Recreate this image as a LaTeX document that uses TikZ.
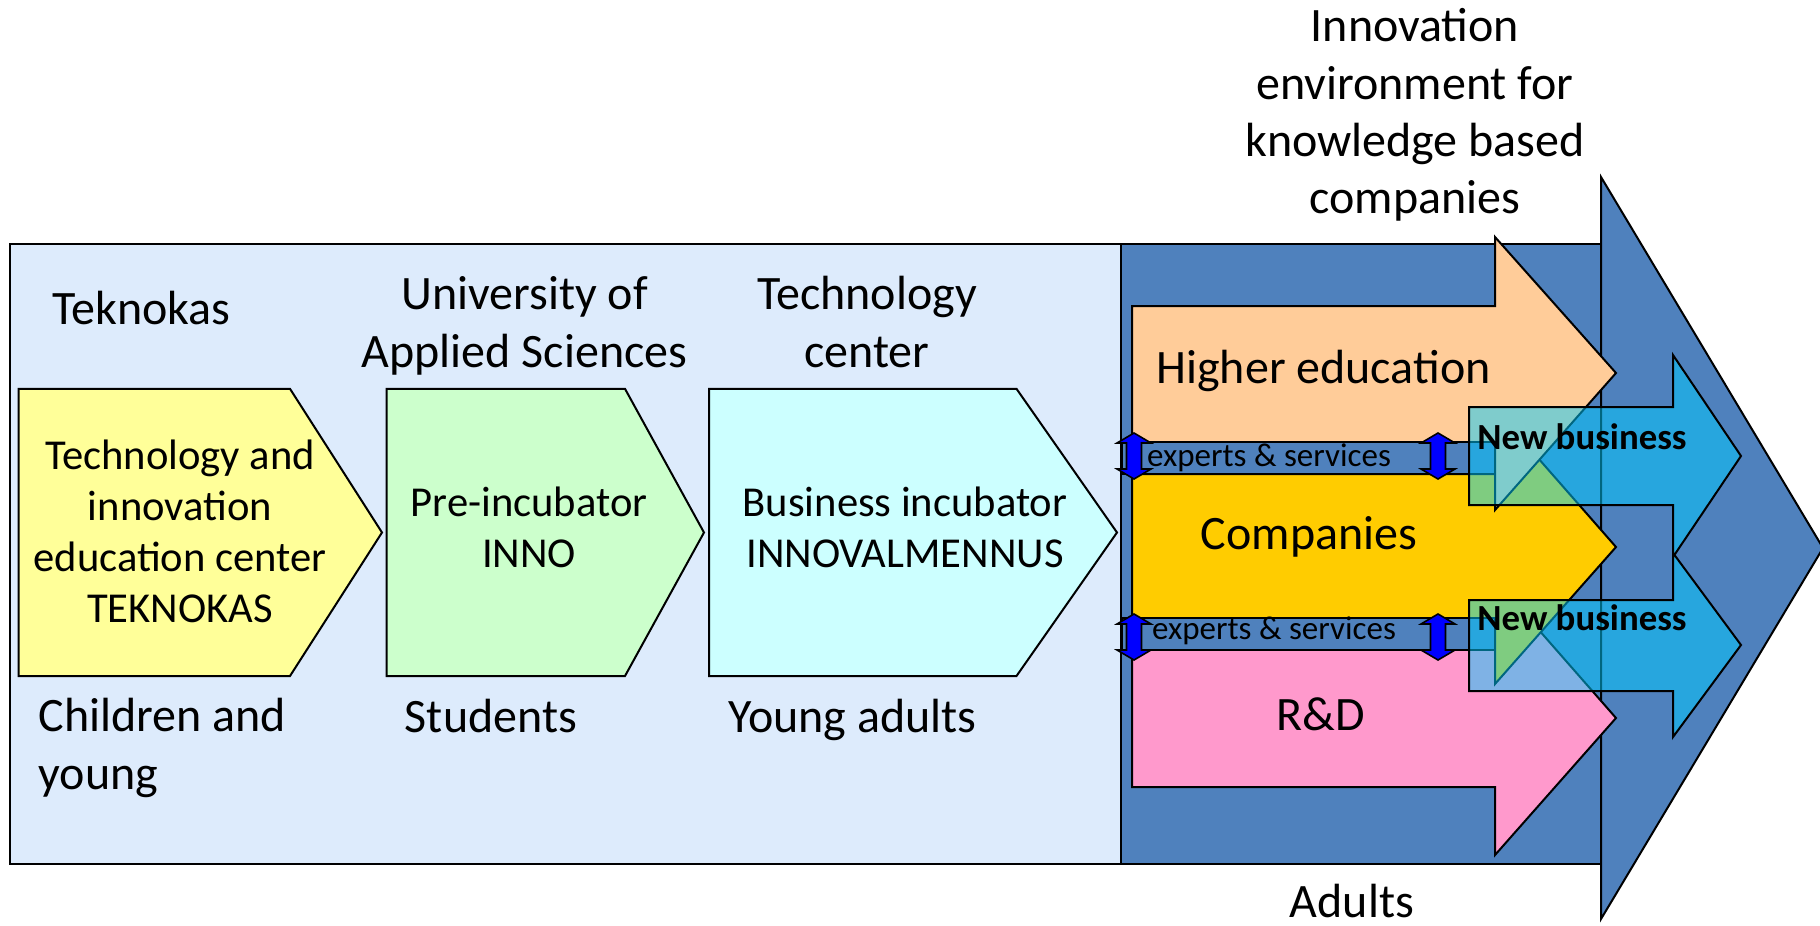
\documentclass[tikz,border=0pt]{standalone}
\usepackage{fontspec}
\setmainfont{Carlito}
\definecolor{bglight}{RGB}{221,235,252}
\definecolor{darkblue}{RGB}{79,129,189}
\definecolor{boxyellow}{RGB}{255,255,153}
\definecolor{boxgreen}{RGB}{204,255,204}
\definecolor{boxcyan}{RGB}{204,255,255}
\definecolor{peach}{RGB}{255,204,153}
\definecolor{gold}{RGB}{255,204,0}
\definecolor{pinkish}{RGB}{255,153,204}
\definecolor{nbcyan}{RGB}{0,204,255}
\definecolor{purebl}{RGB}{0,0,255}
\tikzset{
  outl/.style={draw=black,line width=1pt,line join=miter},
  lbl/.style={font=\fontsize{24}{29}\selectfont,align=center,inner sep=0pt},
  boxtxt/.style={font=\fontsize{21.3}{25.5}\selectfont,align=center,inner sep=0pt},
  exptxt/.style={font=\fontsize{16.5}{19}\selectfont,inner sep=0pt},
  nbtxt/.style={font=\bfseries\fontsize{18.4}{21}\selectfont,inner sep=0pt},
  nbarrow/.style={outl,fill=nbcyan,fill opacity=0.5},
  dblarr/.style={outl,fill=purebl,line width=0.8pt},
}
\newcommand\dblarrow[3]{%
  \draw[dblarr] (#1,#2) -- (#1+17,#2+10) -- (#1+7.5,#2+10) -- (#1+7.5,#3-10) -- (#1+17,#3-10) -- (#1,#3) -- (#1-17,#3-10) -- (#1-7.5,#3-10) -- (#1-7.5,#2+10) -- (#1-17,#2+10) -- cycle;}
\begin{document}
\begin{tikzpicture}[x=0.5pt,y=-0.5pt]
\useasboundingbox (0,0) rectangle (1820,926);
% backgrounds
\draw[outl,fill=bglight] (10.4,243.5) rectangle (1121,863.5);
\draw[outl,fill=darkblue] (1121,243.5) rectangle (1601,863.5);
\draw[outl,fill=darkblue] (1601,177) -- (1823,548) -- (1601,919) -- cycle;
% left chevrons
\draw[outl,fill=boxyellow] (18.6,388.8) -- (290,388.8) -- (382,532.5) -- (290,676) -- (18.6,676) -- cycle;
\draw[outl,fill=boxgreen] (386.5,388.8) -- (625,388.8) -- (704,532.5) -- (625,676) -- (386.5,676) -- cycle;
\draw[outl,fill=boxcyan] (709,388.8) -- (1016.5,388.8) -- (1117,532.5) -- (1016.5,676) -- (709,676) -- cycle;
% right block arrows
\draw[outl,fill=pinkish] (1132,649) -- (1495,649) -- (1495,580) -- (1616,718) -- (1495,855) -- (1495,787) -- (1132,787) -- cycle;
\draw[outl,fill=gold] (1132,474) -- (1495,474) -- (1495,409) -- (1616,547) -- (1495,684) -- (1495,619) -- (1132,619) -- cycle;
\draw[outl,fill=peach] (1132,306) -- (1495,306) -- (1495,237) -- (1616,373) -- (1495,510) -- (1495,442) -- (1132,442) -- cycle;
% experts bars
\draw[outl,fill=darkblue] (1122,442) rectangle (1495,474);
\draw[outl,fill=darkblue] (1122,618) rectangle (1495,650);
\dblarrow{1134}{433}{479}
\dblarrow{1438}{433}{479}
\dblarrow{1134}{614}{660}
\dblarrow{1438}{614}{660}
% new business arrows
\draw[nbarrow] (1469,407) -- (1673,407) -- (1673,355) -- (1741,456) -- (1673,557) -- (1673,505) -- (1469,505) -- cycle;
\draw[nbarrow] (1469,600) -- (1673,600) -- (1673,553) -- (1741,645) -- (1673,737) -- (1673,691) -- (1469,691) -- cycle;
% texts
\node[lbl] (teknokas) at (141.6,308) {Teknokas};
\node[lbl] (univ) at (524.6,326) {University of\\Applied Sciences};
\node[lbl] (techc) at (867,322) {Technology\\center};
\node[boxtxt] (tek) at (180,531.6) {Technology and\\innovation\\education center\\TEKNOKAS};
\node[boxtxt] (pre) at (529,527) {Pre-incubator\\INNO};
\node[boxtxt] (bus) at (905,527) {Business incubator\\INNOVALMENNUS};
\node[lbl,align=left,anchor=west] (child) at (38.3,748) {Children and\\young};
\node[lbl] (stud) at (491,716) {Students};
\node[lbl] (young) at (852.5,719.5) {Young adults};
\node[lbl,font=\fontsize{24}{28.7}\selectfont] (innov) at (1415,115) {Innovation\\environment for\\knowledge based\\companies};
\node[lbl,anchor=west] (higher) at (1156,370.5) {Higher education};
\node[lbl] (comp) at (1309,537) {Companies};
\node[lbl] (rd) at (1321,714) {R\&D};
\node[lbl] (adults) at (1352,901) {Adults};
\node[exptxt] (exp1) at (1269,458) {experts \& services};
\node[exptxt] (exp2) at (1274,631) {experts \& services};
\node[nbtxt] (nb1) at (1582,436.5) {New business};
\node[nbtxt] (nb2) at (1582,617.5) {New business};
\end{tikzpicture}
\end{document}
